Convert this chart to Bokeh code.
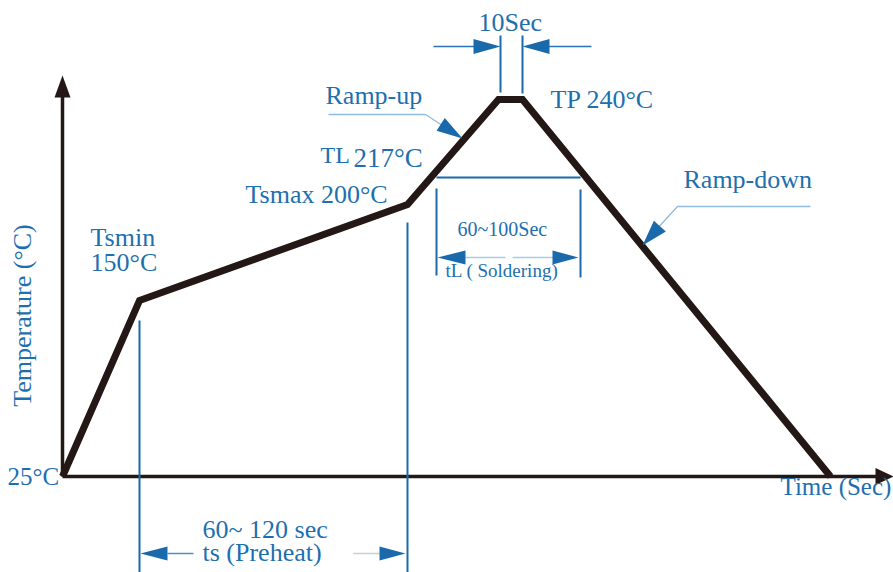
import numpy as np
from bokeh.plotting import figure
from bokeh.models import Range1d, ColumnDataSource
from bokeh.core.properties import value
from bokeh.embed import file_html
from bokeh.resources import INLINE

# ---- schematic data (diagram units: x = time position, y = temperature position, y grows downward) ----
profile_x = [62, 139, 407, 498, 522, 830]
profile_y = [476, 300, 204, 99, 99, 476]

axis_origin = (62, 476)
axis_y_top = 75
axis_x_end = 893

# blue dimension lines (x0, y0, x1, y1)
dim_x0 = [139, 407, 500, 522, 436, 580, 436]
dim_y0 = [320, 222, 35, 35, 188, 189, 177]
dim_x1 = [139, 407, 500, 522, 436, 580, 580]
dim_y1 = [572, 572, 92, 93, 275, 277, 177]

# arrow shafts (x0, y0, x1, y1, colour key)
shaft_x0 = [433, 548, 465, 512, 167, 353]
shaft_y0 = [46, 46, 257, 257, 553, 553]
shaft_x1 = [476, 591, 505, 553, 193, 380]
shaft_y1 = [46, 46, 257, 257, 553, 553]
shaft_col = ["#2a74b3", "#2a74b3", "#a9cbe8", "#a9cbe8", "#4f8fc6", "#c8d0d8"]

# arrow heads: tip x, tip y, direction x, direction y, length, width
head_tx = [500, 522, 437, 578, 140, 405, 462, 642]
head_ty = [46, 46, 257, 257, 553, 553, 138, 245]
head_dx = [1, -1, -1, 1, -1, 1, 37, -35]
head_dy = [0, 0, 0, 0, 0, 0, 24, 39]
head_len = [27, 27, 28, 26, 27, 26, 26, 26]
head_wid = [15, 15, 14, 14, 14, 14, 15, 16]

# leader lines for Ramp-up / Ramp-down
leader_xs = [[328, 425, 445], [810, 677, 655]]
leader_ys = [[114, 114, 127], [206, 206, 230]]

# labels
lab_text = ["10Sec", "TP 240°C", "Ramp-up", "TL", "217°C", "Tsmax 200°C", "Tsmin", "150°C",
            "25°C", "Time (Sec)", "Ramp-down", "60~100Sec", "tL ( Soldering)", "60~ 120 sec", "ts (Preheat)"]
lab_x = [478, 550, 325, 320, 353, 245, 90, 90, 7, 780, 683, 457, 445, 202, 202]
lab_y = [22, 99, 95, 154, 157, 194, 237, 262, 476, 486, 179, 228, 270, 529, 552]
lab_size = ["26px", "26px", "26px", "24px", "27px", "26px", "26px", "26px", "25px", "25px", "26px",
            "20px", "19px", "26px", "26px"]

y_label = "Temperature (°C)"

BLUE = "#1e6fae"
FONT = "Liberation Serif"

p = figure(width=893, height=572, x_range=Range1d(0, 893), y_range=Range1d(572, 0),
           output_backend="svg", toolbar_location=None, min_border=0)
p.axis.visible = False
p.grid.visible = False
p.outline_line_color = None
p.background_fill_color = "white"

# axes
p.segment(x0=[axis_origin[0], axis_origin[0]], y0=[axis_origin[1], axis_origin[1]],
          x1=[axis_origin[0], axis_x_end - 12], y1=[axis_y_top + 15, axis_origin[1]],
          line_color="#231815", line_width=3.5)

# dimension lines
p.segment(x0=dim_x0, y0=dim_y0, x1=dim_x1, y1=dim_y1, line_color="#1a6aab", line_width=2)

# shafts
p.segment(x0=shaft_x0, y0=shaft_y0, x1=shaft_x1, y1=shaft_y1, line_color=shaft_col, line_width=1.6)

# leaders
p.multi_line(xs=leader_xs, ys=leader_ys, line_color="#8fbbe0", line_width=1.3)

# profile
p.line(profile_x, profile_y, line_color="#231815", line_width=7, line_join="miter")

# arrow heads
def heads(tx, ty, dx, dy, L, W):
    xs, ys = [], []
    for a, b, u, v, l, w in zip(tx, ty, dx, dy, L, W):
        n = np.hypot(u, v)
        u, v = u / n, v / n
        bx, by = a - l * u, b - l * v
        px, py = -v, u
        xs.append([a, bx + px * w / 2, bx - px * w / 2])
        ys.append([b, by + py * w / 2, by - py * w / 2])
    return xs, ys

hx, hy = heads(head_tx, head_ty, head_dx, head_dy, head_len, head_wid)
p.patches(hx, hy, fill_color="#1a6aab", line_color=None)

ax_hx, ax_hy = heads([axis_origin[0], axis_x_end], [axis_y_top, axis_origin[1]],
                     [0, 1], [-1, 0], [22, 18], [16, 17])
p.patches(ax_hx, ax_hy, fill_color="#231815", line_color=None)

# labels
src = ColumnDataSource(dict(x=lab_x, y=lab_y, t=lab_text, s=lab_size))
p.text(x="x", y="y", text="t", source=src, text_font=value(FONT), text_font_size="s",
       text_color=BLUE, text_align="left", text_baseline="alphabetic")

p.text(x=[22], y=[315], text=[y_label], angle=np.pi / 2, text_font=value(FONT),
       text_font_size="26px", text_color=BLUE, text_align="center", text_baseline="middle")

open("out.html", "w").write(file_html(p, INLINE))
